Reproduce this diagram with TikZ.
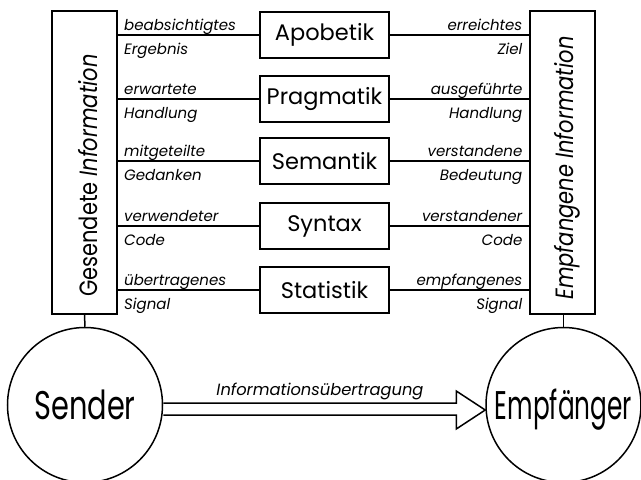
\documentclass[tikz,border=0pt]{standalone}
\usepackage{fontspec}
\setmainfont{Poppins}
\newfontfamily\condfont{Poppins}[FakeStretch=0.72]
\newfontfamily\condfontb{Poppins}[FakeStretch=0.62]
\newfontfamily\vertfont{Poppins}[FakeStretch=0.84]
\begin{document}
\begin{tikzpicture}[x=1pt,y=-1pt,
  tallbox/.style={draw, line width=2pt, minimum width=65pt, minimum height=303pt, inner sep=0pt},
  layerbox/.style={draw, line width=2pt, minimum width=129pt, minimum height=46pt, inner sep=0pt, font=\fontsize{22.5}{26}\selectfont},
  conn/.style={line width=2pt},
  lbl/.style={font=\itshape\fontsize{15}{18}\selectfont, inner sep=0pt},
  vlbl/.style={rotate=90, anchor=base, inner sep=0pt, font=\vertfont\fontsize{25}{28}\selectfont},
  party/.style={circle, draw, line width=1.5pt, minimum size=155pt, inner sep=0pt, text height=28pt, text depth=0pt},
  arrowline/.style={line width=1.5pt, line join=miter},
  arrlbl/.style={font=\itshape\fontsize{16.3}{19}\selectfont, inner sep=0pt, anchor=base}]
\useasboundingbox (0,0) rectangle (641,480);
\node[tallbox] (LB) at (84.5,162.5) {};
\node[tallbox] (RB) at (562,162.5) {};
\node[vlbl] (LBt) at (97,175.5) {Gesendete \textit{Information}};
\node[vlbl] (RBt) at (573,168) {\itshape Empfangene Information};
\foreach \n/\t/\yy/\la/\lb/\ra/\rb in {
  A/Apobetik/35/beabsichtigtes/Ergebnis/erreichtes/Ziel,
  P/Pragmatik/99/erwartete/Handlung/ausgeführte/Handlung,
  M/Semantik/161/mitgeteilte/Gedanken/verstandene/Bedeutung,
  Y/Syntax/226/verwendeter/Code/verstandener/Code,
  T/Statistik/290/übertragenes/Signal/empfangenes/Signal}{
  \node[layerbox] (\n) at (324.5,\yy) {\t};
  \draw[conn] (\n.west -| LB.east) -- (\n.west);
  \draw[conn] (\n.east) -- (\n.east -| RB.west);
  \node[lbl, anchor=base west] (\n la) at ([xshift=6pt,yshift=5pt]\n.west -| LB.east) {\la};
  \node[lbl, anchor=base west] (\n lb) at ([xshift=6pt,yshift=-19pt]\n.west -| LB.east) {\lb};
  \node[lbl, anchor=base east] (\n ra) at ([xshift=-6pt,yshift=5pt]\n.east -| RB.west) {\ra};
  \node[lbl, anchor=base east] (\n rb) at ([xshift=-6pt,yshift=-19pt]\n.east -| RB.west) {\rb};
}
\node[party, font=\condfont\fontsize{40}{44}\selectfont] (S) at (85,405) {Sender};
\node[party, font=\condfontb\fontsize{40}{44}\selectfont] (E) at (563.5,405) {Empfänger};
\draw[conn, line width=1.5pt] (LB.south) -- (S.north);
\draw[conn, line width=1.5pt] (RB.south -| E.north) -- (E.north);
\draw[arrowline] ([yshift=2pt]S.east) -- ([xshift=-29pt,yshift=2pt]E.west) -- ([xshift=-29pt,yshift=14pt]E.west) -- ([yshift=-5pt]E.west) -- ([xshift=-29pt,yshift=-24pt]E.west) -- ([xshift=-29pt,yshift=-10pt]E.west) -- ([yshift=-10pt]S.east);
\node[arrlbl] (IL) at (320,395) {Informationsübertragung};
\end{tikzpicture}
\end{document}
